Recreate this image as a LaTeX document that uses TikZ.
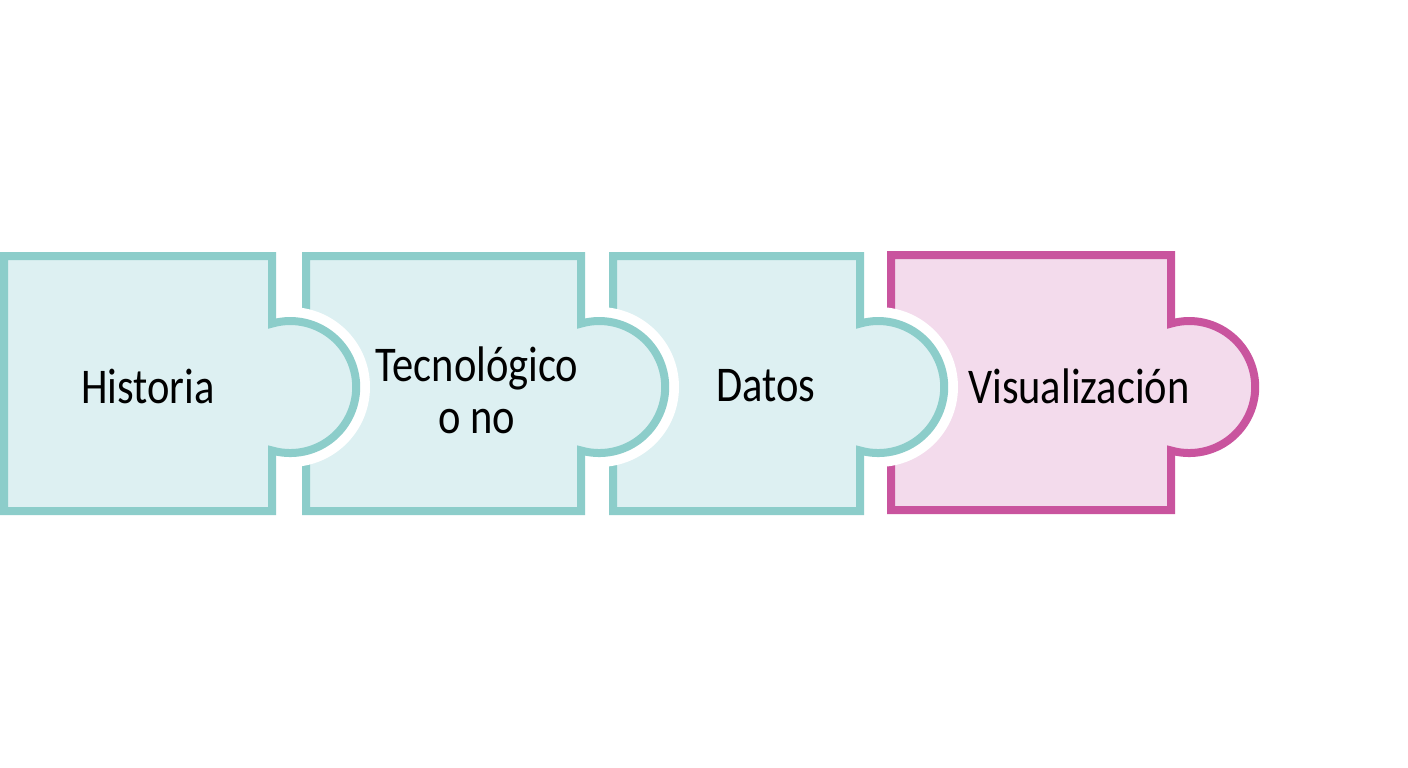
\documentclass[tikz,border=0pt]{standalone}
\usepackage{fontspec}
\setmainfont[FakeStretch=0.85]{Carlito}
\definecolor{tealline}{RGB}{140,205,202}
\definecolor{tealfill}{RGB}{221,240,242}
\definecolor{pinkline}{RGB}{201,84,158}
\definecolor{pinkfill}{RGB}{243,219,236}
\tikzset{
  piecebase/.style={line width=8pt, line join=miter},
  tealpiece/.style={piecebase, draw=tealline, fill=tealfill},
  pinkpiece/.style={piecebase, draw=pinkline, fill=pinkfill},
  halo/.style={fill=white},
  label/.style={font=\fontsize{50}{56}\selectfont, text=black, align=center, inner sep=0pt}
}
% #1 left, #2 right, #3 top, #4 bottom (pixel units, y down), #5 style
\newcommand\puzzlepiece[5]{%
  \draw[#5] (#1,-#3) -- (#2,-#3) -- (#2,-323.6)
    arc[start angle=106, end angle=-106, radius=66] -- (#2,-#4) -- (#1,-#4) -- cycle;}
\newcommand\puzzlehalo[1]{\fill[halo] (#1+18,-387) circle[radius=80];}
\begin{document}
\begin{tikzpicture}[x=1pt,y=1pt]
\useasboundingbox[fill=white] (0,0) rectangle (1408,-768);
\puzzlepiece{891}{1171}{255}{510}{pinkpiece}
\puzzlehalo{860}
\puzzlepiece{613}{860}{256}{511}{tealpiece}
\puzzlehalo{581}
\puzzlepiece{306}{581}{256}{511}{tealpiece}
\puzzlehalo{272}
\puzzlepiece{4}{272}{256}{511}{tealpiece}
\node[label] (historia) at (148,-386) {Historia};
\node[label] (tecno) at (477,-390) {Tecnológico\\[-4pt]o no};
\node[label] (datos) at (766,-386) {Datos};
\node[label] (visual) at (1079,-386) {Visualización};
\end{tikzpicture}
\end{document}
